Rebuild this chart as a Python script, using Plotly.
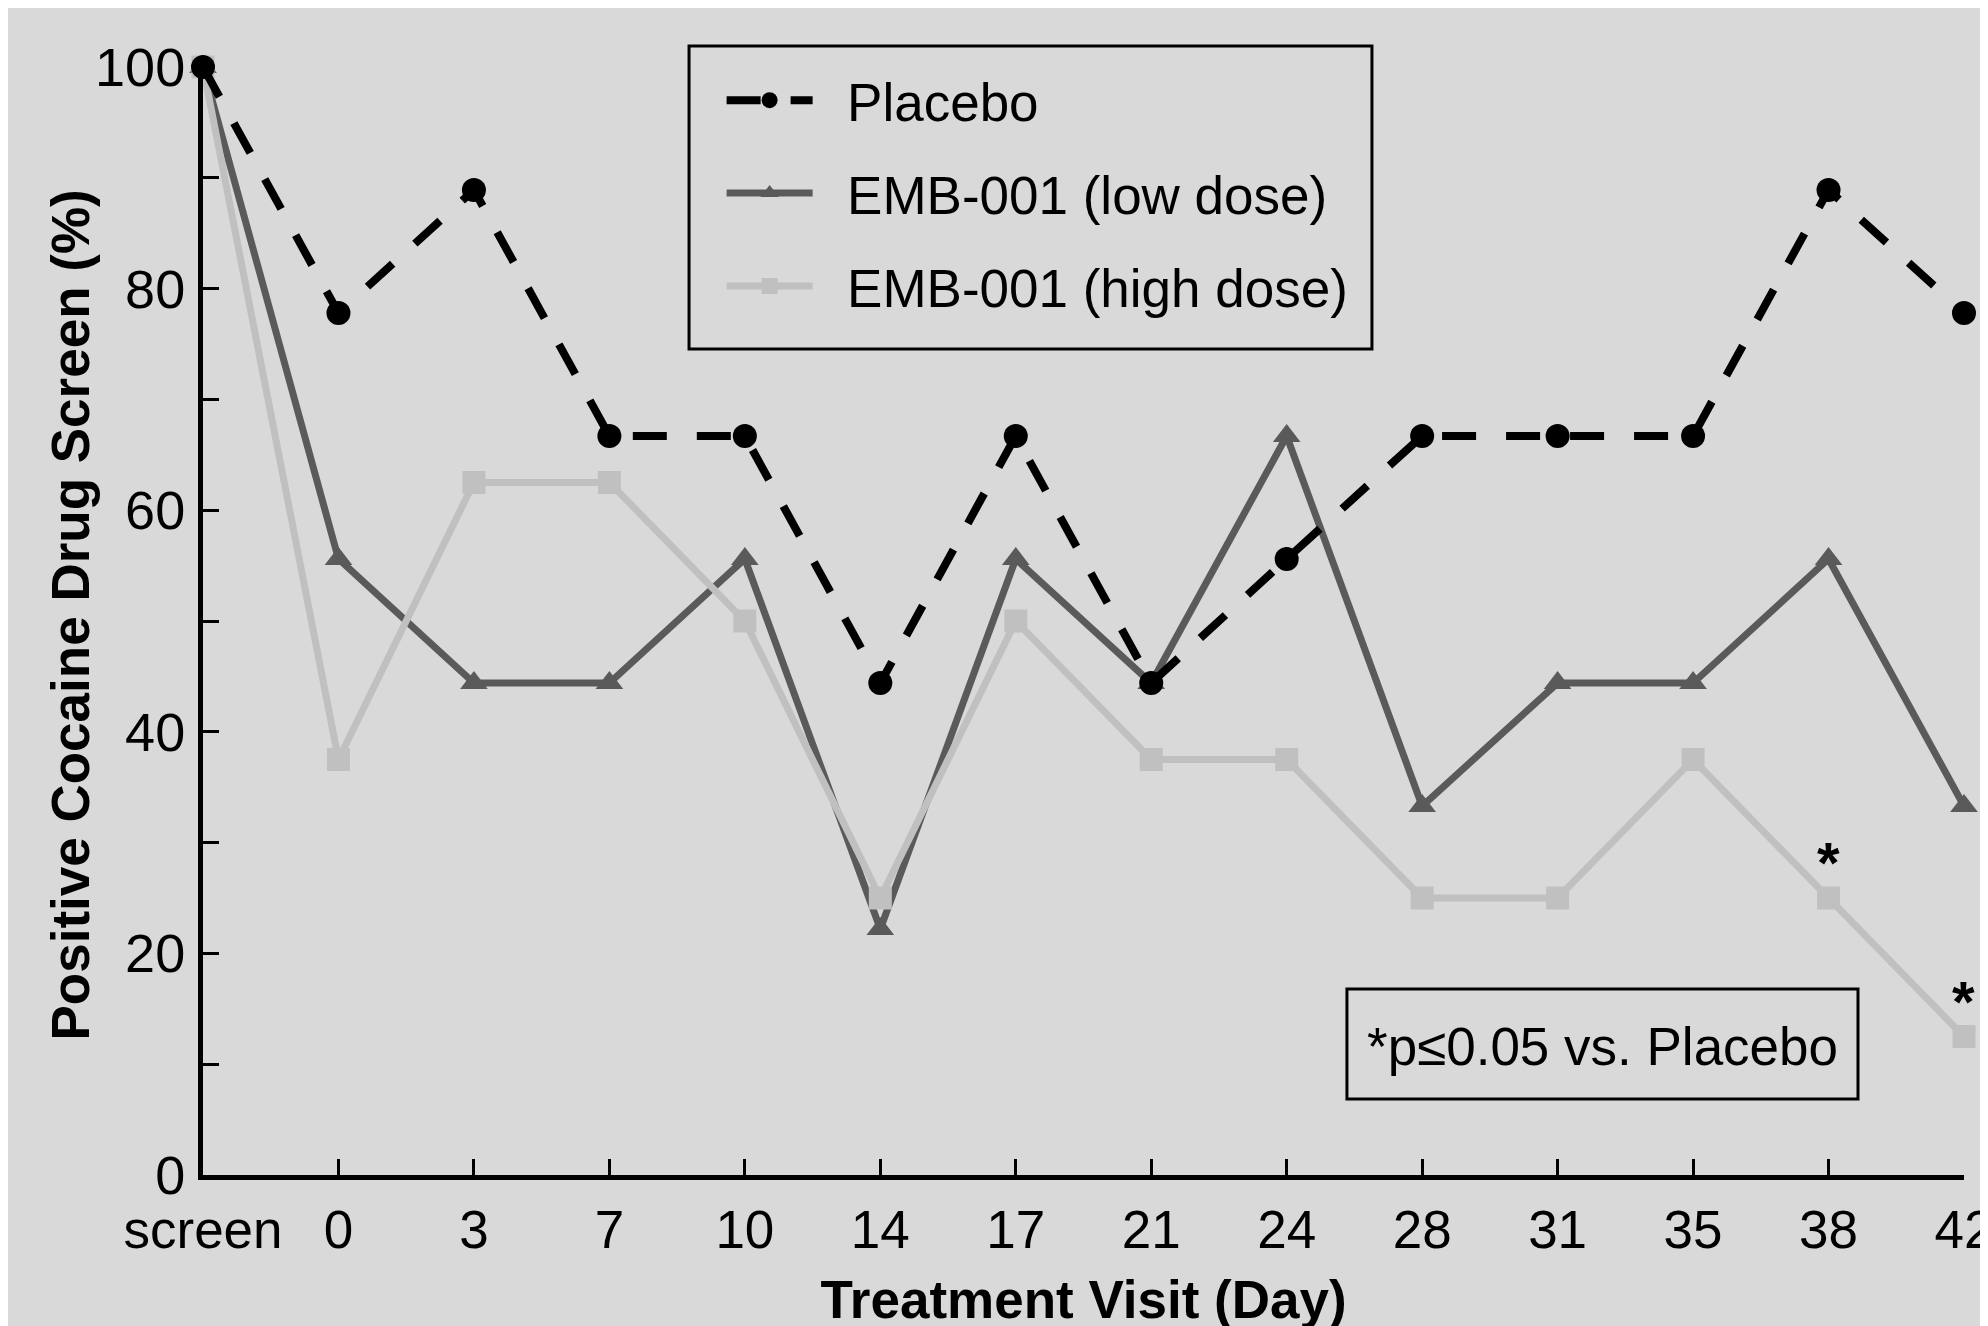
import plotly.graph_objects as go

visits = ["screen", "0", "3", "7", "10", "14", "17", "21", "24", "28", "31", "35", "38", "42"]
placebo = [100, 77.8, 88.9, 66.7, 66.7, 44.4, 66.7, 44.4, 55.6, 66.7, 66.7, 66.7, 88.9, 77.8]
low_dose = [100, 55.6, 44.4, 44.4, 55.6, 22.2, 55.6, 44.4, 66.7, 33.3, 44.4, 44.4, 55.6, 33.3]
high_dose = [100, 37.5, 62.5, 62.5, 50.0, 25.0, 50.0, 37.5, 37.5, 25.0, 25.0, 37.5, 25.0, 12.5]
sig_idx = [12, 13]
sig_y = [28.2, 15.7]

xpos = list(range(len(visits)))
FONT = "Liberation Sans, Arial, sans-serif"
NB = "\u00a0\u00a0"

fig = go.Figure()
fig.add_trace(go.Scatter(
    x=xpos, y=low_dose, name=NB + "EMB-001 (low dose)", mode="lines+markers",
    legendgroup="b", legendrank=2,
    line=dict(color="#5a5a5a", width=7),
    marker=dict(symbol="triangle-up", size=24, color="#5a5a5a"),
    cliponaxis=False))
fig.add_trace(go.Scatter(
    x=xpos, y=high_dose, name=NB + "EMB-001 (high dose)", mode="lines+markers",
    legendgroup="c", legendrank=3,
    line=dict(color="#c0c0c0", width=7),
    marker=dict(symbol="square", size=23, color="#c0c0c0"),
    cliponaxis=False))
fig.add_trace(go.Scatter(
    x=xpos, y=placebo, name=NB + "Placebo", mode="lines+markers",
    legendgroup="a", legendrank=1,
    line=dict(color="black", width=8, dash="34px,30px"),
    marker=dict(symbol="circle", size=24, color="black"),
    cliponaxis=False))

for i, yv in zip(sig_idx, sig_y):
    fig.add_annotation(x=xpos[i], y=yv, text="<b>*</b>", showarrow=False,
                       font=dict(family=FONT, size=58, color="black"))

# significance note
fig.add_shape(type="rect", xref="paper", yref="paper",
              x0=0.6496, x1=0.9398, y0=0.0686, y1=0.1679,
              fillcolor="rgba(0,0,0,0)", line=dict(color="black", width=3))
fig.add_annotation(x=0.795, y=0.1164, xref="paper", yref="paper",
                   text="*p≤0.05 vs. Placebo", showarrow=False,
                   font=dict(family=FONT, size=53, color="black"),
                   xanchor="center", yanchor="middle")

# y-axis title
fig.add_annotation(x=-0.0755, y=0.505, xref="paper", yref="paper",
                   text="<b>Positive Cocaine Drug Screen (%)</b>", showarrow=False,
                   textangle=-90, font=dict(family=FONT, size=53, color="black"),
                   xanchor="center", yanchor="middle")

# legend frame
fig.add_shape(type="rect", xref="paper", yref="paper",
              x0=0.2760, x1=0.6638, y0=0.7455, y1=1.0190,
              fillcolor="rgba(0,0,0,0)", line=dict(color="black", width=3))

fig.update_layout(
    width=1988, height=1326,
    margin=dict(l=195, r=32, t=59, b=159),
    paper_bgcolor="#d9d9d9", plot_bgcolor="#d9d9d9",
    font=dict(family=FONT, size=53, color="black"),
    showlegend=True,
    legend=dict(
        x=0.2945, y=1.007, xanchor="left", yanchor="top",
        bgcolor="rgba(0,0,0,0)", borderwidth=0,
        font=dict(family=FONT, size=53, color="black"),
        traceorder="grouped", tracegroupgap=21,
        itemwidth=86,
    ),
    xaxis=dict(
        range=[-0.0001, 13.0001], tickmode="array", tickvals=xpos, ticktext=visits,
        showgrid=False, zeroline=False, showline=True, linecolor="black",
        linewidth=5, ticks="inside", ticklen=16, tickwidth=3,
        tickcolor="black", ticklabelstandoff=4, ticklabeloverflow="allow",
        automargin=False,
        tickfont=dict(family=FONT, size=53, color="black"),
        title=dict(text="<b>Treatment Visit (Day)</b>", standoff=25,
                   font=dict(family=FONT, size=53, color="black")),
    ),
    yaxis=dict(
        range=[0, 100], tickmode="linear", tick0=0, dtick=20,
        showgrid=False, zeroline=False, showline=True, linecolor="black",
        linewidth=5, ticks="inside", ticklen=16, tickwidth=3,
        tickcolor="black", ticklabelstandoff=2, automargin=False,
        tickfont=dict(family=FONT, size=54, color="black"),
        minor=dict(ticks="inside", ticklen=16, tickwidth=3,
                   tickcolor="black", dtick=10, tick0=0, showgrid=False),
    ),
)

fig.write_html("out.html")
